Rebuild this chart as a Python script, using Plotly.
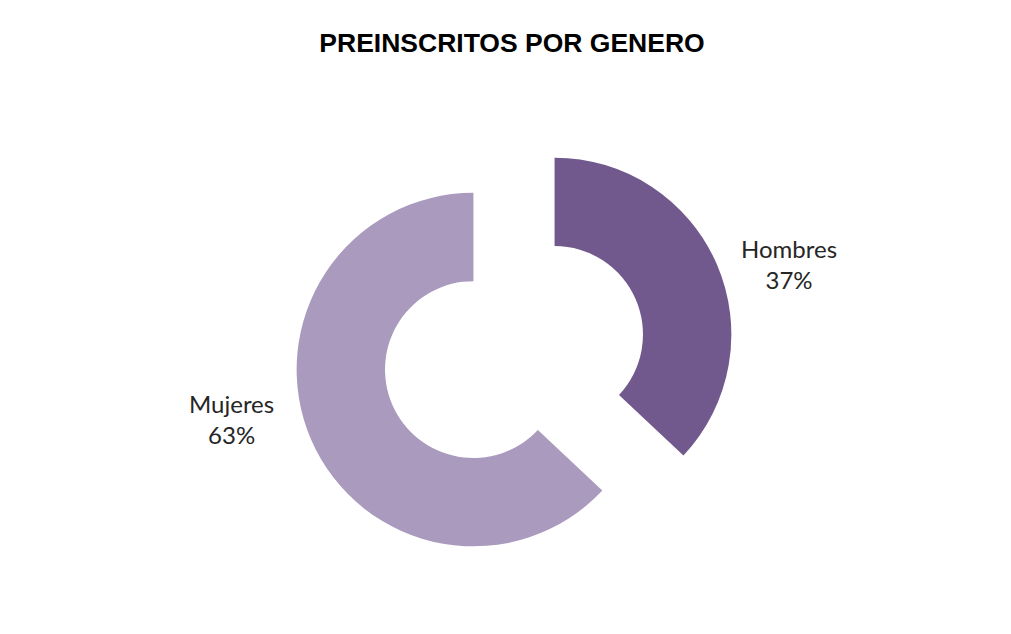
import plotly.graph_objects as go

labels = ["Hombres", "Mujeres"]
values = [37, 63]
colors = ["#71598D", "#A99ABE"]
pulls = [0.25, 0.25]
title_text = "PREINSCRITOS POR GENERO"

total = sum(values)
pcts = [round(v * 100 / total) for v in values]

W, H = 1011, 634
ML, MR, MT, MB = 17, 0, 131, 61
PW, PH = W - ML - MR, H - MT - MB

fig = go.Figure(
    go.Pie(
        labels=labels,
        values=values,
        hole=0.5,
        pull=pulls,
        sort=False,
        direction="clockwise",
        rotation=0,
        marker=dict(colors=colors, line=dict(width=0)),
        textinfo="none",
        hoverinfo="label+percent",
        showlegend=False,
    )
)

# label annotations, positioned in pixel terms and converted to paper coords
label_pos = {"Hombres": (789, 264), "Mujeres": (231, 419)}
for lab, p in zip(labels, pcts):
    px, py = label_pos[lab]
    fig.add_annotation(
        x=(px - ML) / PW, y=1 - (py - MT) / PH, xref="paper", yref="paper",
        text=f"{lab}<br>{p}%", showarrow=False,
        font=dict(family="Lato, Open Sans, sans-serif", size=24, color="#262626"),
        align="center", xanchor="center", yanchor="middle",
    )

fig.update_layout(
    width=W, height=H,
    margin=dict(l=ML, r=MR, t=MT, b=MB),
    paper_bgcolor="white",
    plot_bgcolor="white",
    title=dict(
        text=f"<b>{title_text}</b>",
        x=512 / W, xanchor="center",
        y=1 - 43 / H, yanchor="middle",
        font=dict(family="Liberation Sans Narrow, Arial Narrow, Liberation Sans, sans-serif", size=26.5, color="#000000"),
    ),
)

fig.write_html(
    "out.html",
    config={"displayModeBar": False},
    post_script="document.body.style.margin='0';",
)
